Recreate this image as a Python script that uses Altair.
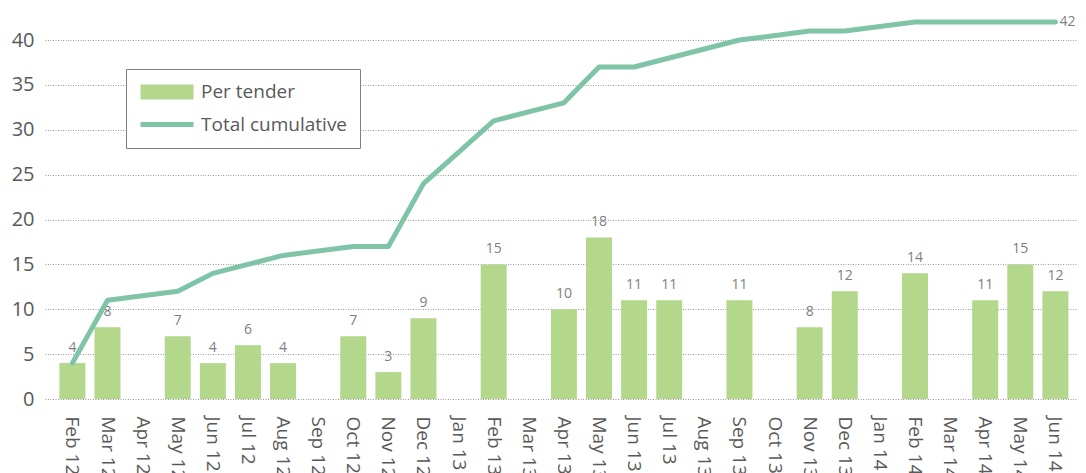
import altair as alt
import pandas as pd

months = ["Feb 12", "Mar 12", "Apr 12", "May 12", "Jun 12", "Jul 12", "Aug 12", "Sep 12",
          "Oct 12", "Nov 12", "Dec 12", "Jan 13", "Feb 13", "Mar 13", "Apr 13", "May 13",
          "Jun 13", "Jul 13", "Aug 13", "Sep 13", "Oct 13", "Nov 13", "Dec 13", "Jan 14",
          "Feb 14", "Mar 14", "Apr 14", "May 14", "Jun 14"]

tender_months = ["Feb 12", "Mar 12", "May 12", "Jun 12", "Jul 12", "Aug 12", "Oct 12",
                 "Nov 12", "Dec 12", "Feb 13", "Apr 13", "May 13", "Jun 13", "Jul 13",
                 "Sep 13", "Nov 13", "Dec 13", "Feb 14", "Apr 14", "May 14", "Jun 14"]
per_tender = [4, 8, 7, 4, 6, 4, 7, 3, 9, 15, 10, 18, 11, 11, 11, 8, 12, 14, 11, 15, 12]
cumulative = [4, 11, 12, 14, 15, 16, 17, 17, 24, 31, 33, 37, 37, 38, 40, 41, 41, 42, 42, 42, 42]

series_names = ["Per tender", "Total cumulative"]

BAR = "#B3D78B"
LINE = "#80C4A8"
TEXT = "#595959"
LABEL = "#7F7F7F"
FONT = "Open Sans"

bars_df = pd.DataFrame({"month": tender_months, "value": per_tender, "series": series_names[0]})
line_df = pd.DataFrame({"month": tender_months, "value": cumulative, "series": series_names[1]})

x_scale = alt.Scale(domain=months, paddingInner=0.26, paddingOuter=0.342, align=0.6)
y_scale = alt.Scale(domain=[0, 43.57], nice=False, zero=True)

x_axis = alt.Axis(title=None, labelAngle=90, labelFont=FONT, labelFontSize=19,
                  labelColor=TEXT, labelPadding=17, ticks=False, domain=False, grid=False)
y_axis = alt.Axis(title=None, values=[0, 5, 10, 15, 20, 25, 30, 35, 40], labelFont=FONT,
                  labelFontSize=20, labelColor=TEXT, labelPadding=11, ticks=False,
                  domain=False, grid=True, gridColor="#9a9a9a", gridDash=[1, 1.5], gridWidth=1)

is_bar = "datum.value === 'Per tender'"
legend = alt.Legend(
    title=None, orient="none", legendX=81, legendY=61,
    fillColor="white", strokeColor="#808080", padding=12,
    labelFont=FONT, labelFontSize=19, labelColor=TEXT,
    symbolSize=2809, rowPadding=10.5, labelOffset=5, clipHeight=22,
    symbolType={"expr": f"{is_bar} ? 'M-1,-0.283H1V0.283H-1Z' : 'stroke'"},
    symbolStrokeColor={"expr": f"{is_bar} ? 'transparent' : '{LINE}'"},
    symbolStrokeWidth=5,
    symbolOpacity=1,
)

bars = alt.Chart(bars_df).mark_bar().encode(
    x=alt.X("month:N", scale=x_scale, axis=x_axis, sort=months),
    y=alt.Y("value:Q", scale=y_scale, axis=y_axis),
    color=alt.Color("series:N", scale=alt.Scale(domain=series_names, range=[BAR, LINE]), legend=legend),
)

bar_labels = alt.Chart(bars_df).mark_text(
    baseline="alphabetic", align="center", dy=-11, font=FONT, fontSize=14, color=LABEL
).encode(
    x=alt.X("month:N", scale=x_scale, sort=months),
    y=alt.Y("value:Q", scale=y_scale),
    text="value:Q",
)

line = alt.Chart(line_df).mark_line(
    color=LINE, strokeWidth=5, strokeCap="round", strokeJoin="round"
).encode(
    x=alt.X("month:N", scale=x_scale, sort=months),
    y=alt.Y("value:Q", scale=y_scale),
)

end_label = alt.Chart(line_df).transform_filter(
    alt.datum.month == months[-1]
).mark_text(
    align="left", baseline="middle", dx=4, font=FONT, fontSize=14, color=LABEL
).encode(
    x=alt.X("month:N", scale=x_scale, sort=months),
    y=alt.Y("value:Q", scale=y_scale),
    text="value:Q",
)

chart = alt.layer(bars, bar_labels, line, end_label).properties(
    width=1033, height=391,
    background="white",
    autosize=alt.AutoSizeParams(type="none"),
    padding={"left": 37, "top": 0, "right": 0, "bottom": 74},
).configure_view(strokeWidth=0, stroke="transparent")

chart.save("out.html", embed_options={"renderer": "svg", "actions": False})
